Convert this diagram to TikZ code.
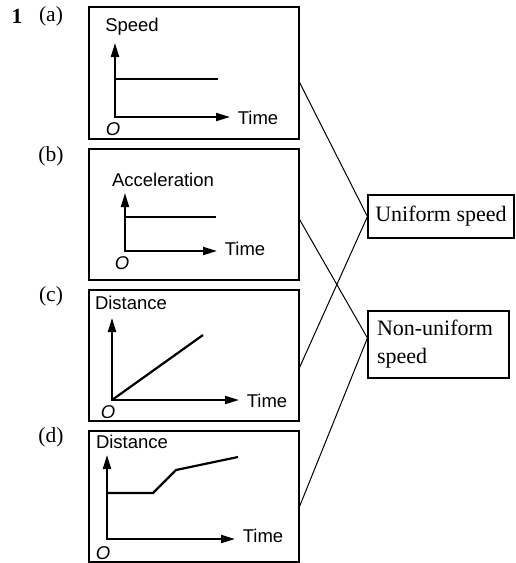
\documentclass[tikz,border=0pt]{standalone}
\usepackage{fontspec}
\setmainfont{Liberation Serif}
\newfontfamily\arialf{Liberation Sans}
\usetikzlibrary{arrows.meta}
\begin{document}
\begin{tikzpicture}[x=1pt,y=-1pt,
  panel/.style={draw, line width=1.1pt, minimum width=210pt, minimum height=131pt, inner sep=0},
  choice/.style={draw, line width=1.1pt, inner sep=0, font=\fontsize{22}{28}\selectfont},
  axisarrow/.style={line width=2pt, {Triangle[length=14pt,width=8pt]}-{Triangle[length=14pt,width=8pt]}},
  graphline/.style={line width=2.2pt, line join=round},
  lbl/.style={font=\arialf\fontsize{18.5}{20}\selectfont, inner sep=0},
  orig/.style={font=\arialf\itshape\fontsize{18.5}{20}\selectfont, inner sep=0},
  tag/.style={font=\fontsize{21.5}{24}\selectfont, inner sep=0},
  link/.style={line width=1pt}]
\useasboundingbox (0,0) rectangle (515,563);

% question labels
\node[tag, font=\bfseries\fontsize{21.5}{24}\selectfont] (num) at (17,16) {1};
\node[tag] (la) at (51,16) {(a)};
\node[tag] (lb) at (51,156) {(b)};
\node[tag] (lc) at (51,296) {(c)};
\node[tag] (ld) at (51,437) {(d)};

% panels
\node[panel, minimum height=132pt] (a) at (194,73) {};
\node[panel] (b) at (194,214.5) {};
\node[panel] (c) at (194,355.5) {};
\node[panel] (d) at (194,496.5) {};

% choice boxes
\node[choice, minimum width=146pt, minimum height=43pt] (u) at (441,216.5) {Uniform speed};
\node[choice, minimum width=141pt, minimum height=67pt, text width=123pt, align=left] (nu) at (438.5,344.5) {Non-uniform\\speed};

% panel (a)
\draw[axisarrow] (115,43) -- (115,117) -- (230,117);
\draw[graphline] (115,79) -- (218,79);
\node[lbl] (sa) at (132,27) {Speed};
\node[lbl] (ta) at (258,118) {Time};
\node[orig] (oa) at (113,129) {O};

% panel (b)
\draw[axisarrow] (125,193) -- (125,251) -- (217,251);
\draw[graphline] (125,217) -- (216,217);
\node[lbl] (sb) at (163,180) {Acceleration};
\node[lbl] (tb) at (245,249) {Time};
\node[orig] (ob) at (122,263) {O};

% panel (c)
\draw[axisarrow] (112,318) -- (112,400) -- (239,400);
\draw[graphline] (112,400) -- (203,335);
\node[lbl] (sc) at (131,303) {Distance};
\node[lbl] (tc) at (267,401) {Time};
\node[orig] (oc) at (108,412) {O};

% panel (d)
\draw[axisarrow] (107,455) -- (107,539) -- (235,539);
\draw[graphline] (107,493) -- (153,493) -- (176,470) -- (238,457);
\node[lbl] (sd) at (132,442) {Distance};
\node[lbl] (td) at (263,536) {Time};
\node[orig] (od) at (103,553) {O};

% connectors
\draw[link] ([yshift=-76pt]a.north east) -- (u.west);
\draw[link] ([yshift=-71pt]b.north east) -- ([yshift=6.5pt]nu.west);
\draw[link] ([yshift=-78pt]c.north east) -- (u.west);
\draw[link] ([yshift=-76pt]d.north east) -- ([yshift=6.5pt]nu.west);
\end{tikzpicture}
\end{document}
